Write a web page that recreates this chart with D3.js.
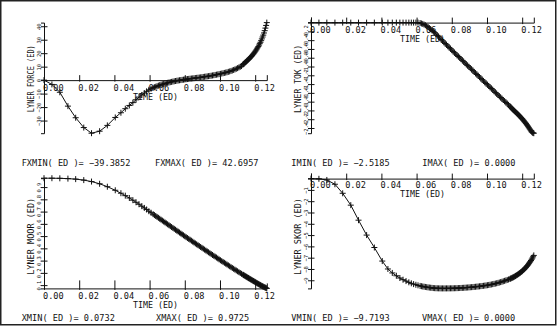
<!DOCTYPE html>
<html>
<head>
<meta charset="utf-8">
<script src="https://cdn.jsdelivr.net/npm/d3@7"></script>
<style>
  html, body { margin: 0; padding: 0; background: #fff; }
  svg { display: block; }
  text { font-family: "DejaVu Sans Mono", "Liberation Mono", monospace; fill: #111; }
</style>
</head>
<body>
<svg id="chart" width="557" height="334"></svg>
<script>
// Sample times of the liner run (adaptive step, denser towards the end)
const time = [
  0, 0.0045, 0.009, 0.0136, 0.018, 0.0226, 0.027, 0.0316, 0.036, 0.0405,
  0.0437, 0.0462, 0.0485, 0.0505, 0.0523, 0.054, 0.0556, 0.057, 0.0583, 0.0596, 0.0608,
  0.062, 0.06275, 0.0635, 0.06425, 0.065, 0.06575, 0.0665, 0.06725, 0.068, 0.06875,
  0.0695, 0.07025, 0.071, 0.07175, 0.0725, 0.07325, 0.074, 0.07475, 0.0755, 0.07625,
  0.077, 0.07775, 0.0785, 0.07925, 0.08, 0.08075, 0.0815, 0.08225, 0.083, 0.08375,
  0.0845, 0.08525, 0.086, 0.08675, 0.0875, 0.08825, 0.089, 0.08975, 0.0905, 0.09125,
  0.092, 0.09275, 0.0935, 0.09425, 0.095, 0.09575, 0.0965, 0.09725, 0.098, 0.09875,
  0.0995, 0.10025, 0.101, 0.10175, 0.1025, 0.10325, 0.104, 0.10475, 0.1055, 0.10625,
  0.107, 0.10775, 0.1085, 0.10925, 0.11, 0.11075, 0.1115, 0.11225,
  0.113, 0.1134, 0.1138, 0.1142, 0.1146, 0.115, 0.1154, 0.1158, 0.1162, 0.1166,
  0.117, 0.1174, 0.1178, 0.1182, 0.1186, 0.119, 0.1194, 0.1198, 0.1202, 0.1206,
  0.121, 0.1214, 0.1218, 0.1222, 0.1226, 0.123, 0.1234, 0.1238, 0.1242, 0.1246,
  0.125, 0.1254, 0.1258, 0.1262, 0.1266
];

// Liner force
const force = [
  0, -3.2, -9.0, -19.3, -27.9, -35.2, -39.3852, -37.9, -33.6, -27.7,
  -24.2, -21.2, -18.8, -16.7, -14.6, -12.6, -11.0, -9.6, -8.3, -7.2, -6.4,
  -5.7, -5.3, -4.9, -4.5, -4.1, -3.75, -3.4, -3.1, -2.8, -2.52,
  -2.25, -2.0, -1.75, -1.52, -1.3, -1.07, -0.85, -0.65, -0.45, -0.27,
  -0.1, 0.05, 0.2, 0.35, 0.5, 0.65, 0.8, 0.92, 1.05, 1.18,
  1.3, 1.42, 1.55, 1.68, 1.8, 1.92, 2.05, 2.2, 2.35, 2.5,
  2.65, 2.8, 2.95, 3.12, 3.3, 3.47, 3.65, 3.85, 4.05, 4.25,
  4.45, 4.67, 4.9, 5.12, 5.35, 5.6, 5.85, 6.15, 6.45, 6.8,
  7.15, 7.55, 7.95, 8.4, 8.9, 9.4, 9.9, 10.45,
  11.5, 12.0, 12.45, 12.9, 13.4, 13.9, 14.4, 14.9, 15.4, 15.9,
  16.45, 17.0, 17.55, 18.15, 18.8, 19.45, 20.1, 20.85, 21.6, 22.4,
  23.2, 24.05, 25.0, 26.0, 27.05, 28.1, 29.3, 30.6, 32.0, 33.4,
  35.0, 36.7, 38.6, 40.6, 42.6957
];

// Liner current
const current = [
  0, 0, 0, 0, 0, 0, 0, 0, 0, 0,
  0, 0, 0, 0, 0, 0, 0, 0, 0, 0, 0,
  -0.01, -0.02, -0.03, -0.045, -0.06, -0.08, -0.1, -0.125, -0.15, -0.175,
  -0.2, -0.23, -0.26, -0.29, -0.32, -0.352, -0.385, -0.415, -0.445, -0.475,
  -0.505, -0.535, -0.565, -0.595, -0.625, -0.655, -0.685, -0.715, -0.745, -0.772,
  -0.8, -0.83, -0.86, -0.89, -0.92, -0.95, -0.98, -1.008, -1.035, -1.065,
  -1.095, -1.125, -1.155, -1.182, -1.21, -1.24, -1.27, -1.3, -1.33, -1.358,
  -1.385, -1.415, -1.445, -1.472, -1.5, -1.53, -1.56, -1.59, -1.62, -1.648,
  -1.675, -1.705, -1.735, -1.762, -1.79, -1.818, -1.846, -1.874,
  -1.905, -1.923, -1.94, -1.957, -1.974, -1.99, -2.005, -2.02, -2.035, -2.05,
  -2.065, -2.08, -2.097, -2.114, -2.131, -2.148, -2.165, -2.182, -2.2, -2.22,
  -2.24, -2.26, -2.28, -2.3, -2.323, -2.346, -2.37, -2.394, -2.418, -2.442,
  -2.466, -2.488, -2.505, -2.515, -2.5185
];

// Liner position
const position = [
  0.9725, 0.9724, 0.9715, 0.969, 0.965, 0.957, 0.945, 0.927, 0.903, 0.874,
  0.850, 0.830, 0.811, 0.793, 0.776, 0.760, 0.744, 0.730, 0.717, 0.703, 0.691,
  0.679, 0.6715, 0.664, 0.6565, 0.649, 0.6415, 0.634, 0.6265, 0.619, 0.6115,
  0.604, 0.5965, 0.589, 0.5815, 0.574, 0.5665, 0.559, 0.5515, 0.544, 0.5365,
  0.529, 0.5215, 0.514, 0.5065, 0.499, 0.4915, 0.484, 0.477, 0.470, 0.4625,
  0.455, 0.4475, 0.440, 0.433, 0.426, 0.4185, 0.411, 0.404, 0.397, 0.3895,
  0.382, 0.375, 0.368, 0.3605, 0.353, 0.346, 0.339, 0.332, 0.325, 0.3175,
  0.310, 0.303, 0.296, 0.289, 0.282, 0.275, 0.268, 0.261, 0.254, 0.247,
  0.240, 0.233, 0.226, 0.2195, 0.213, 0.206, 0.199, 0.192,
  0.1857, 0.182, 0.1785, 0.175, 0.1715, 0.168, 0.1645, 0.161, 0.1575, 0.154,
  0.1505, 0.147, 0.1436, 0.1402, 0.1368, 0.1334, 0.130, 0.1266, 0.1232, 0.1198,
  0.1164, 0.113, 0.1097, 0.1064, 0.1031, 0.0998, 0.0966, 0.0935, 0.0905, 0.0876,
  0.0847, 0.0819, 0.0791, 0.0762, 0.0732
];

// Liner velocity
const velocity = [
  0, -0.02, -0.12, -0.5, -1.3, -2.35, -3.68, -5.0, -6.1, -7.3,
  -8.0, -8.35, -8.6, -8.8, -8.95, -9.07, -9.18, -9.27, -9.34, -9.4, -9.45,
  -9.5, -9.525, -9.55, -9.57, -9.59, -9.61, -9.63, -9.645, -9.66, -9.675,
  -9.69, -9.698, -9.705, -9.71, -9.715, -9.717, -9.719, -9.7192, -9.7193, -9.719,
  -9.718, -9.717, -9.716, -9.714, -9.712, -9.709, -9.705, -9.701, -9.697, -9.692,
  -9.686, -9.68, -9.673, -9.666, -9.658, -9.649, -9.64, -9.63, -9.62, -9.61,
  -9.6, -9.588, -9.575, -9.562, -9.55, -9.535, -9.52, -9.505, -9.49, -9.472,
  -9.455, -9.435, -9.415, -9.393, -9.37, -9.345, -9.32, -9.293, -9.265, -9.233,
  -9.2, -9.165, -9.13, -9.09, -9.05, -9.01, -8.97, -8.93,
  -8.88, -8.85, -8.82, -8.79, -8.76, -8.73, -8.695, -8.66, -8.62, -8.58,
  -8.54, -8.5, -8.455, -8.41, -8.365, -8.32, -8.27, -8.22, -8.16, -8.1,
  -8.04, -7.98, -7.91, -7.85, -7.77, -7.7, -7.62, -7.53, -7.44, -7.35,
  -7.25, -7.14, -7.03, -6.92, -6.8
];

// Extremes printed under each plot
const forceMin = -39.3852, forceMax = 42.6957;
const currentMin = -2.5185, currentMax = 0.0;
const positionMin = 0.0732, positionMax = 0.9725;
const velocityMin = -9.7193, velocityMax = 0.0;

// Tick values
const timeTicks = [0, 0.02, 0.04, 0.06, 0.08, 0.10, 0.12];
const forceTicks = [-30, -20, -10, 0, 10, 20, 30, 40];
const currentTicks = [-2.4, -2.2, -2.0, -1.8, -1.6, -1.4, -1.2, -1.0, -0.8, -0.6, -0.4, -0.2];
const positionTicks = [0.1, 0.2, 0.3, 0.4, 0.5, 0.6, 0.7, 0.8, 0.9];
const velocityTicks = [-9, -8, -7, -6, -5, -4, -3, -2, -1];

// Text
const yTitles = ["LYNER FORCE (ED)", "LYNER TOK (ED)", "LYNER MOOR (ED)", "LYNER SKOR (ED)"];
const minNames = ["FXMIN( ED )= ", "IMIN( ED )= ", "XMIN( ED )= ", "VMIN( ED )= "];
const maxNames = ["FXMAX( ED )= ", "IMAX( ED )= ", "XMAX( ED )= ", "VMAX( ED )= "];
const xTitle = "TIME (ED)";

const svg = d3.select("#chart");
const tMax = time[time.length - 1];

// outer frame
svg.append("rect")
  .attr("x", 0.75).attr("y", 0.75).attr("width", 555).attr("height", 324)
  .attr("fill", "none").attr("stroke", "#222").attr("stroke-width", 1.5);

const panels = [
  { values: force, lo: forceMin, hi: forceMax, ticks: forceTicks, fmt: d3.format("d"),
    left: 44, top: 22.6, bottom: 133.2, tickLabelY: 10.7, xTitleY: 100, titleX: 33.5, titleY: 78.7,
    titleLen: 67, statY: 165.7, minX: 21.7, maxX: 155 },
  { values: current, lo: currentMin, hi: currentMax, ticks: currentTicks, fmt: d3.format(".1f"),
    left: 311, top: 22.6, bottom: 133.2, tickLabelY: 10.3, xTitleY: 41.7, titleX: 300.7, titleY: 79,
    titleLen: 68, statY: 165.7, minX: 291.3, maxX: 422.3 },
  { values: position, lo: positionMin, hi: positionMax, ticks: positionTicks, fmt: d3.format(".1f"),
    left: 44, top: 178.2, bottom: 288.4, tickLabelY: 10.3, xTitleY: 307.7, titleX: 34, titleY: 236.3,
    titleLen: 77, statY: 321, minX: 21.7, maxX: 156 },
  { values: velocity, lo: velocityMin, hi: velocityMax, ticks: velocityTicks, fmt: d3.format("d"),
    left: 311, top: 178.6, bottom: 288.4, tickLabelY: 9, xTitleY: 197, titleX: 300.7, titleY: 236.5,
    titleLen: 77, statY: 321, minX: 291.3, maxX: 422 }
];

const plus = "M-3,0H3M0,-3V3";

panels.forEach((p, i) => {
  const x = d3.scaleLinear().domain([0, tMax]).range([p.left, p.left + 222.8]);
  const y = d3.scaleLinear().domain([p.lo, p.hi]).range([p.bottom, p.top]);
  const axisY = y(Math.max(p.lo, Math.min(p.hi, 0)));
  const g = svg.append("g");

  // time axis, labels hanging left-aligned under each tick
  const xa = g.append("g").attr("transform", `translate(0,${axisY})`)
    .call(d3.axisBottom(x).tickValues(timeTicks).tickFormat(d3.format(".2f")).tickSizeOuter(0).tickSize(-5));
  xa.select(".domain").attr("stroke", "#111");
  xa.selectAll(".tick line").attr("y1", 1.5).attr("y2", i === 2 ? -8 : -5).attr("stroke", "#111");
  xa.selectAll(".tick text")
    .attr("text-anchor", "start").attr("x", -1.5).attr("y", p.tickLabelY).attr("dy", null)
    .attr("font-size", 8.6).attr("font-family", null).attr("fill", "#111");

  // value axis with small rotated tick labels
  const ya = g.append("g").attr("transform", `translate(${p.left},0)`)
    .call(d3.axisLeft(y).tickValues(p.ticks).tickFormat(p.fmt).tickSizeOuter(0).tickSize(3));
  ya.select(".domain").attr("stroke", "#111");
  ya.selectAll(".tick line").attr("x1", -3).attr("x2", 3.5).attr("stroke", "#111");
  ya.selectAll(".tick text")
    .attr("x", null).attr("dy", null).attr("text-anchor", "middle")
    .attr("transform", "translate(-3.5,0) rotate(-90)")
    .attr("font-size", 5.5).attr("font-family", null).attr("fill", "#111");

  // axis titles
  g.append("text").attr("x", p.left + 89).attr("y", p.xTitleY)
    .attr("font-size", 8.6).attr("textLength", 45).attr("lengthAdjust", "spacingAndGlyphs")
    .text(xTitle);
  g.append("text")
    .attr("transform", `translate(${p.titleX},${p.titleY}) rotate(-90)`)
    .attr("text-anchor", "middle").attr("font-size", 8.2)
    .attr("textLength", p.titleLen).attr("lengthAdjust", "spacingAndGlyphs")
    .text(yTitles[i]);

  // curve and sample markers
  const pts = time.map((t, k) => [t, p.values[k]]);
  g.append("path").datum(pts)
    .attr("d", d3.line().x(d => x(d[0])).y(d => y(d[1])))
    .attr("fill", "none").attr("stroke", "#111").attr("stroke-width", 1);
  g.append("g").selectAll("path").data(pts).join("path")
    .attr("transform", d => `translate(${x(d[0])},${y(d[1])})`)
    .attr("d", plus).attr("fill", "none").attr("stroke", "#111").attr("stroke-width", 1);

  // extremes
  const f4 = d3.format(".4f");
  g.append("text").attr("x", p.minX).attr("y", p.statY).attr("font-size", 8.6)
    .text(minNames[i] + f4(p.lo));
  g.append("text").attr("x", p.maxX).attr("y", p.statY).attr("font-size", 8.6)
    .text(maxNames[i] + f4(p.hi));
});
</script>
</body>
</html>
